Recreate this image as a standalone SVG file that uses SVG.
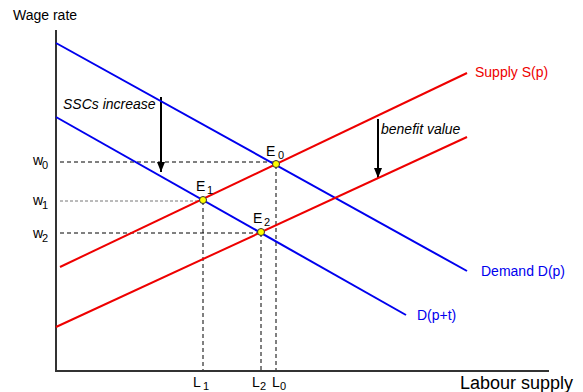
<svg xmlns="http://www.w3.org/2000/svg" width="583" height="392" viewBox="0 0 583 392">
<defs>
<marker id="ah" markerWidth="10" markerHeight="8" refX="10" refY="4" orient="auto" markerUnits="userSpaceOnUse" viewBox="0 0 10 8">
<path d="M0,0 L10,4 L0,8 Z" fill="#000"/>
</marker>
<style>
text{font-family:"Liberation Sans",Arial,sans-serif;}
.ax{stroke:#333;stroke-width:2;fill:none}
.d{stroke:#0000ee;stroke-width:2}
.s{stroke:#ee0000;stroke-width:2}
.dash{stroke:#000;stroke-width:1;stroke-dasharray:4,3}
.dashg{stroke:#777;stroke-width:1;stroke-dasharray:3,2}
.pt{fill:#ffff00;stroke:#333;stroke-width:1}
.lbl{font-size:14px;fill:#000}
.sub{font-size:11px;fill:#000}
</style>
</defs>
<g id="axes">
<line class="ax" x1="56" y1="30" x2="56" y2="372"/>
<line class="ax" x1="55" y1="371" x2="549" y2="371"/>
<text x="13" y="20" font-size="14">Wage rate</text>
<text x="460" y="389" font-size="18">Labour supply</text>
</g>
<g id="connectors">
<line class="dash" x1="60" y1="162" x2="276" y2="162"/>
<line class="dashg" x1="60" y1="201" x2="203" y2="201"/>
<line class="dash" x1="60" y1="233" x2="261" y2="233"/>
<line class="dash" x1="203" y1="201" x2="203" y2="370"/>
<line class="dash" x1="261" y1="233" x2="261" y2="370"/>
<line class="dash" x1="276" y1="165" x2="276" y2="370"/>
<line stroke="#000" stroke-width="2" x1="161" y1="97" x2="161" y2="172" marker-end="url(#ah)"/>
<line stroke="#000" stroke-width="2" x1="378" y1="119" x2="378" y2="178" marker-end="url(#ah)"/>
</g>
<g id="demand">
<line class="d" x1="56" y1="43" x2="467" y2="271"/>
<text x="481" y="276" font-size="14" fill="#0000ee">Demand D(p)</text>
</g>
<g id="demand-t">
<line class="d" x1="56" y1="117" x2="406" y2="315"/>
<text x="417" y="320" font-size="14" fill="#0000ee">D(p+t)</text>
</g>
<g id="supply">
<line class="s" x1="60" y1="267" x2="467" y2="73"/>
<text x="475" y="77" font-size="14" fill="#ee0000">Supply S(p)</text>
</g>
<g id="supply-b">
<line class="s" x1="56" y1="327" x2="467" y2="137"/>
</g>
<g id="labels">
<text x="63" y="109" font-size="14" font-style="italic">SSCs increase</text>
<text x="381" y="134" font-size="14" font-style="italic">benefit value</text>
<text class="lbl" x="33" y="165">w</text><text class="sub" x="42" y="169">0</text>
<text class="lbl" x="33" y="205">w</text><text class="sub" x="42" y="209">1</text>
<text class="lbl" x="33" y="238">w</text><text class="sub" x="42" y="242">2</text>
<text class="lbl" x="193" y="387">L</text><text class="sub" x="203" y="390">1</text>
<text class="lbl" x="252" y="387">L</text><text class="sub" x="260" y="390">2</text>
<text class="lbl" x="272" y="387">L</text><text class="sub" x="280" y="390">0</text>
</g>
<g id="E0">
<circle class="pt" cx="276" cy="164" r="3.5"/>
<text class="lbl" x="266" y="156">E</text><text class="sub" x="278" y="159">0</text>
</g>
<g id="E1">
<circle class="pt" cx="203" cy="200" r="3.5"/>
<text class="lbl" x="196" y="191">E</text><text class="sub" x="207" y="194">1</text>
</g>
<g id="E2">
<circle class="pt" cx="261" cy="232" r="3.5"/>
<text class="lbl" x="253" y="223">E</text><text class="sub" x="264" y="226">2</text>
</g>
</svg>
